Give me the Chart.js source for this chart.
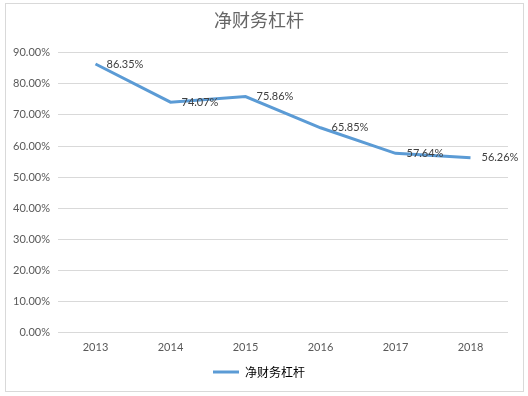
<!DOCTYPE html>
<html>
<head>
<meta charset="utf-8">
<script src="https://cdn.jsdelivr.net/npm/chart.js@4/dist/chart.umd.min.js"></script>
<style>
  html, body { margin: 0; padding: 0; background: #fff; }
  #box {
    position: absolute; left: 5px; top: 3px;
    width: 517px; height: 387px;
    border: 1px solid #d9d9d9;
  }
</style>
</head>
<body>
<div id="box"><canvas id="chart"></canvas></div>
<script>
const years = ["2013", "2014", "2015", "2016", "2017", "2018"];
const leverage = [86.35, 74.07, 75.86, 65.85, 57.64, 56.26];
const seriesName = "净财务杠杆";

// draw value labels to the right of each point
const valueLabels = {
  id: "valueLabels",
  afterDatasetsDraw(chart) {
    const ctx = chart.ctx;
    const meta = chart.getDatasetMeta(0);
    ctx.save();
    ctx.font = "11px Lato, 'Noto Sans', sans-serif";
    ctx.fillStyle = "#404040";
    ctx.textAlign = "left";
    ctx.textBaseline = "middle";
    meta.data.forEach((pt, i) => {
      ctx.fillText(leverage[i].toFixed(2) + "%", pt.x + 11, pt.y);
    });
    ctx.restore();
  }
};

new Chart(document.getElementById("chart"), {
  type: "line",
  data: {
    labels: years,
    datasets: [{
      label: seriesName,
      data: leverage,
      borderColor: "#5b9bd5",
      backgroundColor: "#5b9bd5",
      borderWidth: 3,
      pointRadius: 0,
      tension: 0
    }]
  },
  options: {
    responsive: true,
    maintainAspectRatio: false,
    animation: false,
    layout: { padding: { left: 4, right: 15, top: 0, bottom: 3 } },
    plugins: {
      title: {
        display: true,
        text: seriesName,
        color: "#666666",
        font: { size: 18, family: "'Noto Sans CJK SC'", weight: "normal" },
        padding: { top: 5, bottom: 22 }
      },
      legend: {
        position: "bottom",
        labels: {
          boxWidth: 26,
          boxHeight: 3,
          padding: 4,
          color: "#595959",
          font: { size: 12, family: "'Noto Sans CJK SC'" },
          generateLabels(chart) {
            return [{
              text: seriesName,
              fillStyle: "#5b9bd5",
              strokeStyle: "#5b9bd5",
              lineWidth: 0,
              datasetIndex: 0
            }];
          }
        }
      },
      tooltip: { enabled: false }
    },
    scales: {
      x: {
        offset: true,
        grid: { display: false, drawTicks: false },
        border: { display: false },
        ticks: { color: "#595959", font: { size: 11, family: "Lato, 'Noto Sans', sans-serif" }, padding: 8 }
      },
      y: {
        min: 0,
        max: 90,
        afterFit(scale) { scale.width = 48; },
        ticks: {
          stepSize: 10,
          color: "#595959",
          font: { size: 11, family: "Lato, 'Noto Sans', sans-serif" },
          padding: 8,
          callback: v => v.toFixed(2) + "%"
        },
        grid: { color: "#d9d9d9", drawTicks: false },
        border: { display: false }
      }
    }
  },
  plugins: [valueLabels]
});
</script>
</body>
</html>
